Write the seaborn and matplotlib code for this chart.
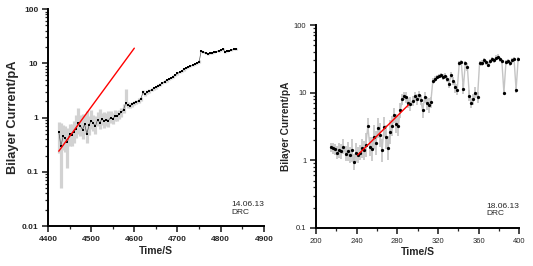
import numpy as np
import pandas as pd
import matplotlib
matplotlib.use("Agg")
import matplotlib.pyplot as plt
from matplotlib.ticker import LogLocator, FixedLocator, NullFormatter, FuncFormatter
import seaborn as sns

# ---------------- data: left panel (14.06.13) ----------------
left_t0 = 4425
left_dt = 5
left_vals = [0.55, 0.30, 0.45, 0.42, 0.35, 0.50, 0.48, 0.55, 0.62, 0.80,
             0.70, 0.60, 0.75, 0.50, 0.72, 0.88, 0.78, 0.70, 0.92, 0.80,
             0.95, 0.85, 0.92, 0.88, 1.00, 0.95, 1.05, 1.05, 1.15, 1.25,
             1.40, 1.85, 1.70, 1.65, 1.75, 1.85, 1.95, 2.05, 2.20, 2.90,
             2.70, 2.95, 3.10, 3.25, 3.45, 3.60, 3.85, 4.05, 4.35, 4.60,
             4.85, 5.10, 5.40, 5.70, 6.10, 6.50, 6.90, 7.30, 7.70, 8.10,
             8.50, 8.90, 9.30, 9.70, 10.2, 10.6, 17.0, 16.0, 15.3, 15.0,
             15.3, 15.6, 16.0, 16.5, 17.0, 17.5, 18.5, 16.3, 16.8, 17.2,
             17.6, 18.0, 18.4]
left_lo = [2.5, 6.0, 1.8, 1.8, 3.0, 1.7, 1.6, 1.6, 1.5, 1.6,
           1.5, 1.5, 1.5, 1.5, 1.5, 1.4, 1.4, 1.4, 1.3, 1.3,
           1.3, 1.3, 1.3, 1.3, 1.25, 1.25, 1.2, 1.2, 1.2, 1.2,
           1.15, 1.15, 1.12, 1.12, 1.1, 1.1, 1.1, 1.1, 1.1, 1.08,
           1.08, 1.08, 1.08, 1.06, 1.06, 1.06, 1.06, 1.06, 1.05, 1.05,
           1.05, 1.05, 1.05, 1.05, 1.05, 1.05, 1.05, 1.05, 1.05, 1.05,
           1.05, 1.05, 1.05, 1.05, 1.05, 1.05, 1.04, 1.04, 1.04, 1.04,
           1.04, 1.04, 1.04, 1.04, 1.04, 1.04, 1.04, 1.04, 1.04, 1.04,
           1.04, 1.04, 1.04]
left_hi = [1.5, 2.6, 1.6, 1.7, 1.8, 1.5, 1.6, 1.6, 1.8, 1.9,
           1.6, 1.9, 1.5, 2.6, 1.5, 1.6, 1.4, 1.5, 1.4, 1.8,
           1.3, 1.5, 1.3, 1.5, 1.3, 1.3, 1.3, 1.25, 1.2, 1.2,
           1.25, 1.8, 1.15, 1.12, 1.1, 1.1, 1.1, 1.1, 1.1, 1.1,
           1.08, 1.08, 1.08, 1.06, 1.06, 1.06, 1.06, 1.06, 1.05, 1.05,
           1.05, 1.05, 1.05, 1.05, 1.05, 1.05, 1.05, 1.05, 1.05, 1.05,
           1.05, 1.05, 1.05, 1.05, 1.05, 1.08, 1.05, 1.04, 1.04, 1.04,
           1.04, 1.04, 1.04, 1.04, 1.04, 1.04, 1.04, 1.04, 1.04, 1.04,
           1.04, 1.04, 1.04]
left_fit_t = [4425, 4600]
left_fit_v = [0.24, 19.0]

# ---------------- data: right panel (18.06.13) ----------------
right_t0 = 215
right_dt = 2
right_vals = [1.55, 1.50, 1.45, 1.30, 1.40, 1.35, 1.60, 1.25, 1.35, 1.20,
              1.40, 0.95, 1.30, 1.20, 1.30, 1.50, 1.40, 1.70, 3.20, 1.60,
              1.45, 2.20, 1.80, 3.00, 2.40, 1.40, 3.10, 2.20, 1.50, 2.60,
              3.20, 4.60, 3.50, 3.20, 5.50, 8.00, 9.00, 8.50, 7.00, 6.80,
              7.50, 8.80, 8.00, 9.20, 7.80, 5.50, 8.50, 7.00, 6.50, 7.20,
              15.0, 16.0, 17.0, 17.5, 18.0, 17.0, 17.5, 16.0, 13.5, 18.5,
              15.0, 12.0, 11.0, 27.0, 28.0, 11.5, 27.0, 24.0, 9.0, 7.0,
              8.0, 10.0, 8.5, 27.0, 27.5, 30.0, 28.0, 26.0, 29.0, 31.0,
              30.0, 33.0, 34.0, 31.0, 29.0, 10.0, 28.0, 29.0, 27.0, 30.0,
              31.0, 11.0, 31.0]
right_spread = [1.15, 1.2, 1.2, 1.25, 1.3, 1.3, 1.3, 1.3, 1.4, 1.3,
                1.5, 1.3, 1.4, 1.3, 1.3, 1.4, 1.4, 1.5, 1.3, 1.4,
                1.5, 1.5, 1.5, 1.4, 1.5, 1.5, 1.4, 1.5, 1.5, 1.5,
                1.4, 1.3, 1.4, 1.4, 1.3, 1.2, 1.15, 1.2, 1.2, 1.25,
                1.2, 1.15, 1.2, 1.15, 1.2, 1.3, 1.2, 1.25, 1.3, 1.2,
                1.1, 1.1, 1.08, 1.08, 1.08, 1.1, 1.1, 1.12, 1.15, 1.1,
                1.15, 1.2, 1.2, 1.1, 1.1, 1.2, 1.1, 1.15, 1.2, 1.2,
                1.2, 1.2, 1.2, 1.1, 1.1, 1.08, 1.08, 1.1, 1.08, 1.08,
                1.08, 1.08, 1.08, 1.08, 1.08, 1.1, 1.08, 1.08, 1.08, 1.08,
                1.08, 1.1, 1.08]
right_fit_t = [241, 291]
right_fit_v = [1.2, 6.6]


def build(t0, dt, vals):
    n = len(vals)
    return pd.DataFrame({"t": t0 + dt * np.arange(n), "v": vals})


sns.set_style("ticks")
plt.rcParams["font.family"] = ["Liberation Sans", "DejaVu Sans"]

fig = plt.figure(figsize=(5.33, 2.66), dpi=100)
axL = fig.add_axes([0.090, 0.150, 0.405, 0.816])
axR = fig.add_axes([0.593, 0.143, 0.381, 0.763])

fmt = FuncFormatter(lambda v, p: ("%g" % v))


def style(ax, xlim, ylim, xmaj, xmin, tsize, tbold, xls, yls):
    ax.set_yscale("log")
    ax.set_xlim(*xlim)
    ax.set_ylim(*ylim)
    ax.xaxis.set_major_locator(FixedLocator(xmaj))
    ax.xaxis.set_minor_locator(FixedLocator(xmin))
    ax.yaxis.set_major_locator(LogLocator(base=10, numticks=10))
    ax.yaxis.set_minor_locator(LogLocator(base=10, subs=np.arange(2, 10), numticks=20))
    ax.yaxis.set_major_formatter(fmt)
    ax.yaxis.set_minor_formatter(NullFormatter())
    for s in ["top", "right"]:
        ax.spines[s].set_visible(False)
    for s in ["left", "bottom"]:
        ax.spines[s].set_linewidth(1.4)
        ax.spines[s].set_color("black")
    ax.tick_params(which="major", length=4, width=1.2, labelsize=tsize, direction="out", pad=3)
    ax.tick_params(which="minor", length=2, width=0.9, direction="out")
    for lab in ax.get_xticklabels() + ax.get_yticklabels():
        lab.set_fontweight("bold" if tbold else "normal")
    ax.set_xlabel("Time/S", fontsize=xls, fontweight="bold", labelpad=2)
    ax.set_ylabel("Bilayer Current/pA", fontsize=yls, fontweight="bold", labelpad=2)


# ---- left panel ----
dL = build(left_t0, left_dt, left_vals)
axL.vlines(dL["t"], dL["v"] / np.array(left_lo), dL["v"] * np.array(left_hi),
           color="#d2d2d2", linewidth=2.3, zorder=1)
sns.lineplot(data=dL, x="t", y="v", ax=axL, color="#555555", linewidth=0.5,
             estimator=None, sort=True, zorder=2)
sns.scatterplot(data=dL, x="t", y="v", ax=axL, color="black", s=2.2, marker="s",
                linewidth=0, zorder=3)
sns.lineplot(x=left_fit_t, y=left_fit_v, ax=axL, color="red", linewidth=1.0, zorder=4)
style(axL, (4400, 4900), (0.01, 100), [4400, 4500, 4600, 4700, 4800, 4900],
      [4450, 4550, 4650, 4750, 4850], 6, True, 7.5, 9.3)
axL.text(0.85, 0.115, "14.06.13\nDRC", transform=axL.transAxes, fontsize=6,
         va="top", ha="left", linespacing=1.1)

# ---- right panel ----
dR = build(right_t0, right_dt, right_vals)
sns.lineplot(data=dR, x="t", y="v", ax=axR, color="#c4c4c4", linewidth=1.0,
             estimator=None, sort=True, zorder=1)
sp = np.array(right_spread)
axR.vlines(dR["t"], dR["v"] / sp, dR["v"] * sp, color="#c4c4c4", linewidth=1.2, zorder=1)
sns.scatterplot(data=dR, x="t", y="v", ax=axR, color="black", s=5.5, marker="o",
                linewidth=0, zorder=3)
sns.lineplot(x=right_fit_t, y=right_fit_v, ax=axR, color="red", linewidth=1.0, zorder=4)
style(axR, (200, 400), (0.1, 100), [200, 240, 280, 320, 360, 400],
      [220, 260, 300, 340, 380], 5.5, False, 7.5, 7.3)
axR.text(0.84, 0.125, "18.06.13\nDRC", transform=axR.transAxes, fontsize=6,
         va="top", ha="left", linespacing=1.1)

fig.savefig("out.png", dpi=100, facecolor="white")
